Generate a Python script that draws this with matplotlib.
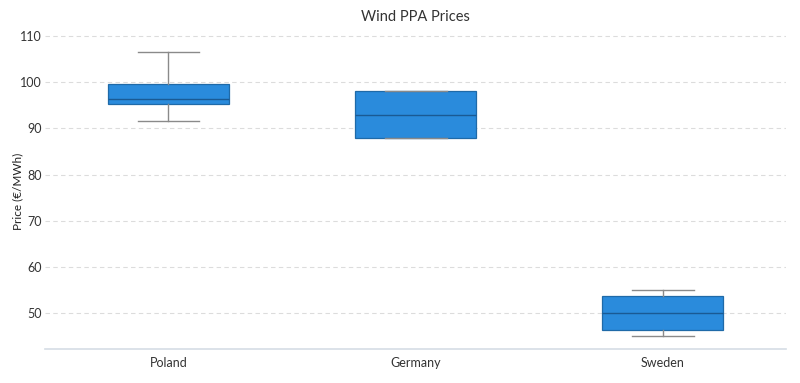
import matplotlib
matplotlib.use("Agg")
import matplotlib.pyplot as plt

plt.rcParams['font.family'] = ['Lato', 'DejaVu Sans']

countries = ["Poland", "Germany", "Sweden"]
whislo = [91.6, 88.0, 45.1]
q1 = [95.2, 88.0, 46.4]
medians = [96.3, 93.0, 50.1]
q3 = [99.7, 98.0, 53.8]
whishi = [106.5, 98.0, 55.0]

stats = [
    {"label": c, "whislo": lo, "q1": a, "med": m, "q3": b, "whishi": hi, "fliers": []}
    for c, lo, a, m, b, hi in zip(countries, whislo, q1, medians, q3, whishi)
]

fig = plt.figure(figsize=(8, 3.83), dpi=100)
ax = fig.add_axes([0.056, 0.089, 0.927, 0.823])

ax.bxp(stats, positions=range(len(countries)), widths=0.49, patch_artist=True,
       boxprops=dict(facecolor="#2a8bdc", edgecolor="#1f6aa8", linewidth=0.9),
       medianprops=dict(color="#1a5a94", linewidth=1.0),
       whiskerprops=dict(color="#8a8a8a", linewidth=1.0),
       capprops=dict(color="#8a8a8a", linewidth=1.0),
       capwidths=0.25, showfliers=False)

ax.set_xlim(-0.5, 2.5)
ax.set_ylim(42.3, 110.5)
ax.set_yticks([50, 60, 70, 80, 90, 100, 110])
ax.yaxis.grid(True, linestyle=(0, (4, 3)), color="#dcdcdc", linewidth=0.8)
ax.set_axisbelow(True)

for s in ["top", "right", "left"]:
    ax.spines[s].set_visible(False)
ax.spines["bottom"].set_color("#d5dde5")
ax.spines["bottom"].set_linewidth(1.2)
ax.tick_params(axis="both", length=0, labelsize=9, colors="#333333", pad=6)
ax.tick_params(axis="y", pad=2)

fig.text(0.022, 0.5, "Price (€/MWh)", rotation=90, fontsize=8.5, color="#222222",
         ha="center", va="center")
ax.set_title("Wind PPA Prices", fontsize=10.5, color="#333333", pad=9)

fig.savefig("out.png", dpi=100)
